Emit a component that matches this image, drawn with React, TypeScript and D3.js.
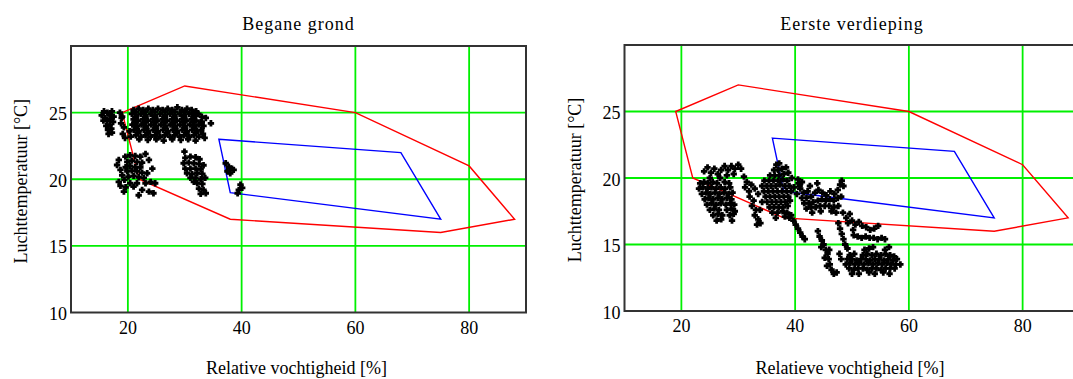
import React, { useEffect, useRef } from "react";
import * as d3 from "d3";

type Pt = [number, number];

// axis ticks
const xTicks = [20, 40, 60, 80];
const yTicks = [15, 20, 25];
const yLabels = [10, 15, 20, 25];

// comfort zones (RH %, temp °C)
const redZone: Pt[] = [[19, 25], [30, 27], [60, 25], [80, 21], [88, 17], [75, 16], [38, 17], [22, 20]];
const blueZone: Pt[] = [[36, 23], [68, 22], [75, 17], [38, 19]];

// Begane grond - measurements
const bgLeftBlob: Pt[] = [
  [15.4, 24.8], [15.8, 25.1], [16.0, 24.6], [16.4, 25.0], [16.8, 24.8], [17.2, 25.1], [17.5, 24.7], [15.7, 24.4],
  [16.3, 24.4], [16.9, 24.5], [17.4, 24.3], [16.2, 24.0], [16.8, 24.1], [16.5, 23.7], [17.1, 23.8], [16.6, 23.4],
  [17.2, 23.5], [18.6, 25.0], [19.0, 24.7], [18.8, 24.2], [19.3, 23.9], [19.1, 23.4], [19.5, 23.1], [18.9, 24.6],
];
const bgBlock: Pt[] = [
  [21.0, 25.2], [21.9, 25.3], [22.7, 25.2], [23.6, 25.3], [24.4, 25.2], [25.3, 25.3], [26.1, 25.2], [27.0, 25.3],
  [27.8, 25.2], [28.7, 25.4], [29.5, 25.2], [30.4, 25.3], [31.2, 25.2], [32.0, 25.1],
  [20.7, 24.9], [21.5, 24.8], [22.3, 24.9], [23.1, 24.8], [24.0, 24.9], [24.8, 24.8], [25.7, 24.9], [26.5, 24.8],
  [27.4, 24.9], [28.2, 24.8], [29.1, 24.9], [29.9, 24.8], [30.8, 24.9], [31.6, 24.8], [32.4, 24.9], [33.0, 24.7],
  [21.0, 24.5], [21.8, 24.4], [22.7, 24.5], [23.5, 24.4], [24.4, 24.5], [25.2, 24.4], [26.1, 24.5], [26.9, 24.4],
  [27.8, 24.5], [28.6, 24.4], [29.5, 24.5], [30.3, 24.4], [31.2, 24.5], [32.0, 24.4], [32.8, 24.3],
  [20.8, 24.1], [21.6, 24.0], [22.4, 24.1], [23.2, 24.0], [24.1, 24.1], [24.9, 24.0], [25.8, 24.1], [26.6, 24.0],
  [27.5, 24.1], [28.3, 24.0], [29.2, 24.1], [30.0, 24.0], [30.9, 24.1], [31.7, 24.0], [32.5, 24.1], [33.3, 24.0],
  [21.1, 23.7], [21.9, 23.6], [22.8, 23.7], [23.6, 23.6], [24.5, 23.7], [25.3, 23.6], [26.2, 23.7], [27.0, 23.6],
  [27.9, 23.7], [28.7, 23.6], [29.6, 23.7], [30.4, 23.6], [31.3, 23.7], [32.1, 23.6], [32.9, 23.7],
  [21.4, 23.3], [22.3, 23.2], [23.1, 23.3], [24.0, 23.2], [24.8, 23.3], [25.7, 23.2], [26.5, 23.3], [27.4, 23.2],
  [28.2, 23.3], [29.1, 23.2], [29.9, 23.3], [30.8, 23.2], [31.6, 23.3], [32.5, 23.2], [33.2, 23.4],
  [22.0, 23.0], [23.5, 22.95], [25.0, 23.0], [26.3, 22.9], [27.8, 23.0], [29.3, 22.95], [30.6, 23.0], [31.9, 22.9],
  [33.7, 24.6], [34.6, 24.2], [33.5, 23.1], [20.3, 23.6], [20.5, 23.2],
  [21.4, 25.05], [23.1, 25.05], [24.8, 25.05], [26.6, 25.05], [28.3, 25.05], [30.0, 25.05], [31.7, 25.0],
  [21.4, 24.65], [23.1, 24.65], [24.8, 24.65], [26.5, 24.65], [28.2, 24.65], [29.9, 24.65], [31.6, 24.65],
  [21.2, 24.3], [22.9, 24.3], [24.6, 24.3], [26.3, 24.3], [28.0, 24.3], [29.7, 24.3], [31.4, 24.3], [33.0, 24.3],
  [21.5, 23.9], [23.2, 23.85], [24.9, 23.9], [26.6, 23.85], [28.3, 23.9], [30.0, 23.85], [31.7, 23.9],
  [21.8, 23.5], [23.5, 23.45], [25.2, 23.5], [26.9, 23.45], [28.6, 23.5], [30.3, 23.45], [32.0, 23.5],
];
const bgLowLeft: Pt[] = [
  [18.4, 21.45], [18.1, 21.07], [18.7, 20.7], [19.0, 20.3], [18.4, 19.8], [18.7, 19.5], [19.6, 19.4], [19.3, 19.07],
  [23.1, 21.9], [23.7, 21.45], [24.3, 20.8], [23.4, 20.45], [24.0, 19.8], [24.8, 19.7], [23.1, 19.7], [22.5, 19.2],
  [23.7, 19.07], [24.5, 18.95], [21.9, 18.8], [21.0, 19.45], [20.4, 19.7], [21.6, 19.7],
  [19.56, 21.7], [20.4, 21.8], [21.3, 21.75], [22.2, 21.7], [19.9, 21.3], [20.7, 21.4], [21.6, 21.3], [22.5, 21.25],
  [19.6, 20.9], [20.4, 21.0], [21.3, 20.9], [22.2, 20.9], [19.9, 20.6], [20.7, 20.65], [21.6, 20.6], [22.5, 20.5],
  [20.1, 20.2], [21.0, 20.25], [21.9, 20.15], [22.8, 20.1], [19.4, 19.95],
];
const bgMid: Pt[] = [
  [29.95, 22.07], [30.1, 21.6], [31.0, 21.7], [31.9, 21.65], [32.6, 21.5], [29.8, 21.2], [30.7, 21.25], [31.6, 21.2],
  [32.5, 21.15], [33.3, 21.05], [30.1, 20.8], [31.0, 20.8], [31.9, 20.8], [32.8, 20.75], [30.4, 20.45], [31.3, 20.4],
  [32.2, 20.45], [33.1, 20.4], [31.0, 20.1], [31.9, 20.1], [32.8, 20.0], [33.6, 20.1], [32.2, 19.7], [33.1, 19.65],
  [32.5, 19.3], [33.3, 19.2], [32.8, 18.9], [33.7, 18.95], [31.6, 19.8],
];
const bgNearBlue: Pt[] = [
  [37.2, 21.2], [37.75, 20.95], [38.3, 20.8], [37.5, 20.6], [38.0, 20.45], [38.6, 20.7], [39.8, 19.6], [39.5, 19.2],
  [40.1, 19.35], [39.3, 18.95],
];

// Eerste verdieping - measurements
const evR1: Pt[] = [
  [24.0, 20.5], [24.6, 20.8], [25.2, 20.4], [25.8, 20.7], [26.4, 20.3], [27.0, 20.6], [27.6, 20.9], [28.2, 20.6],
  [28.8, 20.9], [29.4, 20.7], [30.0, 21.0], [30.5, 20.7], [29.2, 20.3], [28.0, 20.2], [26.8, 20.0], [25.0, 20.0],
  [23.3, 19.6], [24.0, 19.7], [24.7, 19.6], [25.5, 19.7], [26.3, 19.6], [27.6, 19.7], [28.4, 19.6],
  [23.1, 19.2], [23.8, 19.3], [24.6, 19.2], [25.3, 19.3], [26.1, 19.2], [26.9, 19.3], [27.7, 19.2], [28.6, 19.3],
  [23.6, 18.8], [24.4, 18.9], [25.1, 18.8], [25.9, 18.9], [26.7, 18.8], [27.5, 18.9], [28.3, 18.8], [29.0, 18.9],
  [24.1, 18.4], [24.8, 18.5], [25.6, 18.4], [26.4, 18.5], [27.2, 18.4], [28.0, 18.5], [28.8, 18.4],
  [24.5, 18.0], [25.3, 18.1], [26.1, 18.0], [26.9, 18.1], [27.8, 18.0], [28.6, 18.1], [29.3, 18.0],
  [25.0, 17.6], [25.8, 17.7], [26.6, 17.6], [28.0, 17.6], [28.8, 17.7], [29.4, 17.5],
  [25.6, 17.2], [26.4, 17.3], [27.2, 17.2], [28.5, 17.2], [29.2, 17.3], [26.2, 16.8], [27.0, 16.9], [28.9, 16.8],
];
const evR2: Pt[] = [
  [31.0, 20.1], [31.5, 19.7], [31.2, 19.3], [31.9, 19.0], [32.3, 19.5], [32.0, 18.6], [32.7, 18.3], [32.4, 17.9],
  [33.1, 17.6], [32.9, 17.2], [33.5, 16.9], [33.3, 16.5], [33.9, 16.6], [33.8, 17.6], [34.2, 18.2], [33.5, 18.8],
  [32.9, 19.2],
  [36.7, 21.0], [37.2, 21.1], [36.3, 20.6], [37.0, 20.6], [37.7, 20.7], [38.4, 20.8], [35.6, 20.2], [36.4, 20.2],
  [37.2, 20.2], [38.0, 20.3], [38.8, 20.4], [39.4, 20.0],
  [34.6, 19.8], [35.4, 19.8], [36.2, 19.8], [37.0, 19.8], [37.8, 19.9], [38.6, 19.8],
  [34.2, 19.4], [35.0, 19.4], [35.8, 19.4], [36.6, 19.4], [37.4, 19.5], [38.2, 19.4], [39.0, 19.4], [39.8, 19.3],
  [34.5, 19.0], [35.3, 19.0], [36.1, 19.0], [36.9, 19.0], [37.7, 19.0], [38.5, 19.0], [39.3, 19.0],
  [34.8, 18.6], [35.6, 18.6], [36.4, 18.6], [37.2, 18.6], [38.0, 18.6], [38.8, 18.6],
  [35.1, 18.2], [35.9, 18.2], [36.7, 18.2], [37.5, 18.2], [38.3, 18.2], [39.1, 18.3],
  [35.5, 17.8], [36.3, 17.8], [37.1, 17.8], [37.9, 17.8], [38.7, 17.9],
  [36.0, 17.4], [36.9, 17.4], [37.8, 17.5], [38.6, 17.4], [36.6, 17.0], [38.2, 17.1], [39.0, 17.0],
  [40.5, 19.9], [40.8, 19.4], [40.3, 18.8], [41.2, 19.7],
  [39.3, 17.2], [39.7, 16.8], [40.1, 16.5], [40.5, 16.2], [40.9, 15.9], [41.3, 15.6], [41.7, 15.4],
];
const evR3: Pt[] = [
  [40.6, 19.6], [40.9, 19.2], [41.5, 18.9], [42.2, 19.0], [41.2, 18.5], [42.0, 18.5], [42.8, 18.6], [43.5, 18.9],
  [44.1, 19.1], [44.8, 18.9], [45.5, 18.7], [46.2, 19.0], [46.9, 18.8], [47.5, 19.1], [47.9, 19.5], [48.2, 19.8],
  [48.5, 19.4], [41.6, 18.1], [42.4, 18.1], [43.2, 18.2], [44.0, 18.3], [44.7, 18.4], [45.4, 18.3], [46.1, 18.4],
  [46.8, 18.3], [47.5, 18.5], [48.1, 18.6], [42.0, 17.7], [42.8, 17.8], [43.6, 17.8], [44.4, 17.9], [45.2, 17.9],
  [46.0, 17.9], [46.8, 17.8], [47.6, 17.9], [43.0, 17.4], [44.5, 17.5], [46.4, 17.5], [47.2, 17.4], [42.6, 19.4],
  [43.9, 19.6],
];
const evLower: Pt[] = [
  [48.4, 17.4], [49.0, 17.0], [49.6, 17.3], [49.3, 16.6], [50.0, 16.8], [50.6, 16.5], [51.2, 16.7], [51.8, 16.4],
  [52.5, 16.3], [53.2, 16.1], [53.9, 16.2], [54.6, 16.4], [50.2, 16.1],
  [50.3, 15.7], [51.0, 15.6], [51.7, 15.5], [52.4, 15.6], [53.1, 15.5], [53.8, 15.5], [54.5, 15.4], [55.2, 15.5],
  [55.8, 15.4],
  [47.6, 16.6], [47.9, 16.2], [48.2, 15.8], [48.5, 15.4], [48.8, 15.0], [49.2, 14.7],
  [44.0, 16.0], [44.3, 15.6], [44.7, 15.3], [45.0, 15.0], [45.4, 14.6], [45.7, 14.3], [45.2, 14.0], [45.9, 13.9],
  [46.1, 13.5], [45.6, 13.4], [46.4, 13.1], [46.8, 12.8], [47.3, 12.9], [46.0, 14.6], [44.6, 14.8],
  [47.8, 14.3], [48.1, 13.9],
];
const evBottom: Pt[] = [
  [52.2, 14.6], [53.0, 14.7], [53.7, 14.8], [55.8, 14.6], [56.5, 14.8],
  [49.6, 14.2], [50.4, 14.3], [51.9, 14.2], [52.7, 14.3], [53.5, 14.2], [54.3, 14.3], [55.1, 14.2], [55.9, 14.3],
  [56.7, 14.2], [57.4, 14.1],
  [49.2, 13.9], [50.0, 13.9], [50.8, 13.8], [51.6, 13.9], [52.4, 13.9], [53.2, 13.8], [54.0, 13.9], [54.8, 13.9],
  [55.6, 13.8], [56.4, 13.9], [57.2, 13.8], [57.9, 13.9],
  [48.9, 13.5], [49.7, 13.6], [50.5, 13.5], [51.3, 13.6], [52.1, 13.5], [52.9, 13.6], [53.7, 13.5], [54.5, 13.6],
  [55.3, 13.5], [56.1, 13.6], [56.9, 13.5], [57.7, 13.5], [58.5, 13.5],
  [49.5, 13.2], [50.3, 13.1], [51.1, 13.2], [51.9, 13.2], [52.7, 13.1], [53.5, 13.2], [54.3, 13.2], [55.1, 13.1],
  [55.9, 13.2], [56.7, 13.2], [57.5, 13.2],
  [50.0, 12.8], [51.2, 12.8], [53.0, 12.9], [54.0, 12.8], [55.5, 12.9], [56.6, 12.8],
];

const beganeGrond = [...bgLeftBlob, ...bgBlock, ...bgLowLeft, ...bgMid, ...bgNearBlue];
const eersteVerdieping = [...evR1, ...evR2, ...evR3, ...evLower, ...evBottom];

const panels = [
  { title: "Begane grond", xLabel: "Relative vochtigheid [%]", points: beganeGrond, x0: 71, x1: 526, y0: 46, y1: 312.5 },
  { title: "Eerste verdieping", xLabel: "Relatieve vochtigheid [%]", points: eersteVerdieping, x0: 624.5, x1: 1079.5, y0: 45, y1: 311 },
];

export default function App() {
  const svgRef = useRef<SVGSVGElement>(null);

  useEffect(() => {
    const svg = d3.select(svgRef.current);
    svg.selectAll("*").remove();

    svg.append("rect").attr("width", 1073).attr("height", 379).attr("fill", "#fff");

    panels.forEach((p) => {
      const x = d3.scaleLinear().domain([10, 90]).range([p.x0, p.x1]);
      const y = d3.scaleLinear().domain([10, 30]).range([p.y1, p.y0]);
      const g = svg.append("g");

      // grid
      g.selectAll(".vx").data(xTicks).enter().append("line")
        .attr("x1", (d) => x(d)).attr("x2", (d) => x(d))
        .attr("y1", p.y0).attr("y2", p.y1)
        .attr("stroke", "#00f000").attr("stroke-width", 1.8);
      g.selectAll(".hy").data(yTicks).enter().append("line")
        .attr("y1", (d) => y(d)).attr("y2", (d) => y(d))
        .attr("x1", p.x0).attr("x2", p.x1)
        .attr("stroke", "#00f000").attr("stroke-width", 1.8);

      // zones
      const line = d3.line<Pt>().x((d) => x(d[0])).y((d) => y(d[1])).curve(d3.curveLinearClosed);
      g.append("path").attr("d", line(redZone)).attr("fill", "none").attr("stroke", "#ff0000").attr("stroke-width", 1.4);
      g.append("path").attr("d", line(blueZone)).attr("fill", "none").attr("stroke", "#0000ff").attr("stroke-width", 1.4);

      // points
      g.selectAll(".pt").data(p.points).enter().append("path")
        .attr("transform", (d) => `translate(${x(d[0])},${y(d[1])})`)
        .attr("d", "M-3.2,0H3.2M0,-3.2V3.2")
        .attr("stroke", "#000").attr("stroke-width", 2.8).attr("fill", "none");

      // frame
      g.append("rect")
        .attr("x", p.x0).attr("y", p.y0)
        .attr("width", p.x1 - p.x0).attr("height", p.y1 - p.y0)
        .attr("fill", "none").attr("stroke", "#333").attr("stroke-width", 2);

      // tick labels
      g.selectAll(".xl").data(xTicks).enter().append("text")
        .attr("x", (d) => x(d)).attr("y", p.y1 + 21)
        .attr("text-anchor", "middle")
        .text((d) => d);
      g.selectAll(".yl").data(yLabels).enter().append("text")
        .attr("x", p.x0 - 4).attr("y", (d) => y(d) + 7.5)
        .attr("text-anchor", "end")
        .text((d) => d);

      const cx = (p.x0 + p.x1) / 2;
      g.append("text")
        .attr("x", cx).attr("y", 30)
        .attr("text-anchor", "middle")
        .style("letter-spacing", "1px")
        .text(p.title);
      g.append("text")
        .attr("x", cx - 2).attr("y", 374)
        .attr("text-anchor", "middle")
        .text(p.xLabel);
      g.append("text")
        .attr("transform", `translate(${p.x0 - 44},${(p.y0 + p.y1) / 2 + 2}) rotate(-90)`)
        .attr("text-anchor", "middle")
        .text("Luchttemperatuur [°C]");
    });
  }, []);

  return (
    <svg
      ref={svgRef}
      width={1073}
      height={379}
      style={{ position: "absolute", left: 0, top: 0, display: "block", fontFamily: "'Liberation Serif'", fontSize: 18 }}
    />
  );
}
